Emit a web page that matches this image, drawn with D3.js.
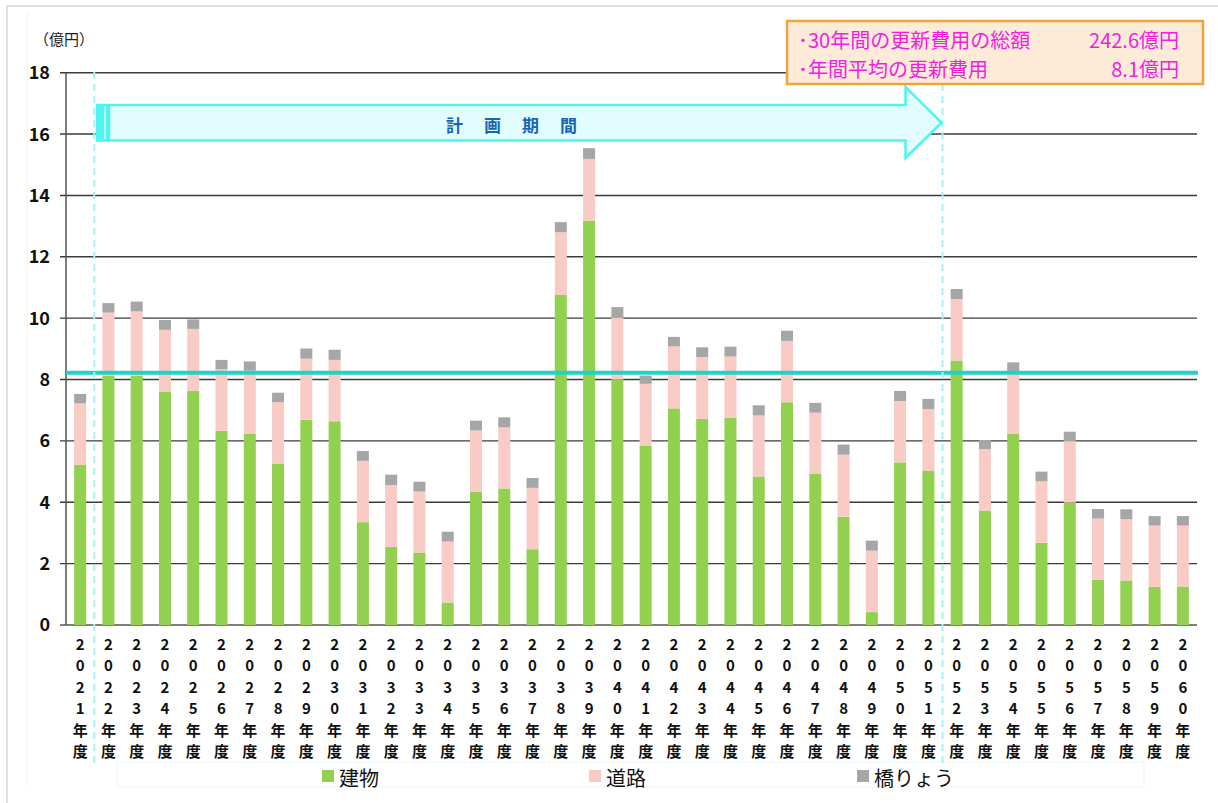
<!DOCTYPE html>
<html><head><meta charset="utf-8">
<script src="https://cdn.jsdelivr.net/npm/d3@7"></script>
<style>
html,body{margin:0;padding:0;background:#fff;}
svg{display:block;font-family:"Noto Sans CJK JP","Noto Sans",sans-serif;}
</style></head>
<body>
<svg id="chart" width="1218" height="803"></svg>
<script>
const years = ["2021","2022","2023","2024","2025","2026","2027","2028","2029","2030",
  "2031","2032","2033","2034","2035","2036","2037","2038","2039","2040",
  "2041","2042","2043","2044","2045","2046","2047","2048","2049","2050",
  "2051","2052","2053","2054","2055","2056","2057","2058","2059","2060"];
const building = [5.22,8.12,8.12,7.61,7.63,6.33,6.24,5.26,6.69,6.64,
  3.35,2.55,2.36,0.72,4.34,4.45,2.47,10.76,13.18,8.01,
  5.85,7.06,6.72,6.75,4.84,7.26,4.92,3.53,0.42,5.30,
  5.02,8.62,3.73,6.24,2.68,3.99,1.47,1.45,1.24,1.24];
const road = [2.00,2.06,2.10,2.01,2.02,2.01,2.05,2.00,1.99,2.00,
  2.00,2.01,1.99,2.00,2.00,1.99,2.00,2.04,2.01,2.01,
  2.01,2.02,2.01,2.00,1.99,2.00,2.00,2.02,2.00,2.00,
  2.02,2.00,2.00,2.00,2.00,2.00,2.00,2.00,2.00,2.00];
const bridge = [0.31,0.31,0.32,0.32,0.31,0.30,0.30,0.31,0.33,0.33,
  0.32,0.34,0.32,0.32,0.32,0.33,0.32,0.33,0.35,0.34,
  0.27,0.31,0.32,0.32,0.33,0.33,0.32,0.33,0.33,0.33,
  0.33,0.33,0.30,0.32,0.32,0.31,0.31,0.32,0.31,0.31];
const seriesNames = ["建物","道路","橋りょう"];
const seriesColors = ["#92d050","#f8cbc4","#a6a6a6"];
const yTicks = [0,2,4,6,8,10,12,14,16,18];
const avgLineValue = 8.22;
const unitLabel = "（億円）";
const planLabel = "計画期間";
const planStart = "2022", planEnd = "2051";
const noteLines = [["･30年間の更新費用の総額","242.6億円"],["･年間平均の更新費用","8.1億円"]];

(function(){
const svg = d3.select("#chart");
const pL = 66, pR = 1197, pT = 72.7, pB = 625;

// frames
svg.append("rect").attr("x",7).attr("y",6).attr("width",1300).attr("height",1000)
  .attr("fill","none").attr("stroke","#d6d6d6").attr("stroke-width",1.5);
svg.append("line").attr("x1",27).attr("x2",27).attr("y1",13).attr("y2",786)
  .attr("stroke","#f2f2f2").attr("stroke-width",1);

const x = d3.scaleBand().domain(years).range([pL,pR]).paddingInner(0.575).paddingOuter(0.2875);
const y = d3.scaleLinear().domain([0,18]).range([pB,pT]);

// legend faint box
svg.append("rect").attr("x",117).attr("y",762).attr("width",1027).attr("height",25)
  .attr("fill","none").attr("stroke","#e6f6f8").attr("stroke-width",1);

// gridlines
svg.append("g").selectAll("line").data(yTicks).join("line")
  .attr("x1",pL-6).attr("x2",pR).attr("y1",d=>y(d)).attr("y2",d=>y(d))
  .attr("stroke",d=>d===0?"#555":"#3a3a3a").attr("stroke-width",1.4);
// y axis
svg.append("line").attr("x1",pL).attr("x2",pL).attr("y1",pT).attr("y2",pB)
  .attr("stroke","#555").attr("stroke-width",1.5);
svg.append("g").selectAll("text").data(yTicks).join("text")
  .attr("x",50).attr("y",d=>y(d)).attr("dy","0.36em").attr("text-anchor","end")
  .attr("font-size",18).attr("font-weight","bold").attr("fill","#111").text(d=>d);
svg.append("text").attr("x",34).attr("y",40).attr("dy","0.35em").attr("font-size",15)
  .attr("fill","#222").text(unitLabel);

// stacked bars
const rows = years.map((yr,i)=>({year:yr,"建物":building[i],"道路":road[i],"橋りょう":bridge[i]}));
const stack = d3.stack().keys(seriesNames)(rows);
svg.append("g").selectAll("g").data(stack).join("g")
  .attr("fill",(d,i)=>seriesColors[i])
  .selectAll("rect").data(d=>d).join("rect")
  .attr("x",d=>x(d.data.year)).attr("width",x.bandwidth())
  .attr("y",d=>y(d[1])).attr("height",d=>y(d[0])-y(d[1]));

// average line
svg.append("line").attr("x1",pL).attr("x2",pR+1).attr("y1",y(avgLineValue)).attr("y2",y(avgLineValue))
  .attr("stroke","#1fd3c8").attr("stroke-width",4);

// x labels (vertical stacked)
const lblG = svg.append("g");
years.forEach(yr=>{
  const chars = (yr+"年度").split("");
  const cx = x(yr)+x.bandwidth()/2;
  chars.forEach((c,j)=>{
    lblG.append("text").attr("x",cx).attr("y",644.5+j*21.5).attr("dy","0.36em")
      .attr("text-anchor","middle").attr("font-size",15).attr("font-weight","bold")
      .attr("fill","#111").text(c);
  });
});

// dashed plan boundaries
const step = x.step();
const bStart = x(planStart) - step*x.paddingInner()/2;
const bEnd = x(planEnd) + x.bandwidth() + step*x.paddingInner()/2;
[bStart,bEnd].forEach(bx=>{
  svg.append("line").attr("x1",bx).attr("x2",bx).attr("y1",72).attr("y2",765)
    .attr("stroke","#a8f2f4").attr("stroke-width",2).attr("stroke-dasharray","7,5");
});

// plan arrow
const ax0 = bStart+3, ax1 = bEnd-1, headX = bEnd-37;
const by0 = 105, by1 = 140.5, hy0 = 87, hy1 = 158, tipY = 122.7;
svg.append("path")
  .attr("d",`M${ax0},${by0}L${headX},${by0}L${headX},${hy0}L${ax1},${tipY}L${headX},${hy1}L${headX},${by1}L${ax0},${by1}Z`)
  .attr("fill","#e2fdfd").attr("stroke","#4ff3f0").attr("stroke-width",2.5).attr("stroke-linejoin","miter");
svg.append("rect").attr("x",ax0).attr("y",by0).attr("width",7).attr("height",by1-by0).attr("fill","#4ff3f0");
svg.append("rect").attr("x",ax0+8.5).attr("y",by0).attr("width",4.5).attr("height",by1-by0).attr("fill","#4ff3f0");
svg.append("text").attr("x",446).attr("y",tipY+3).attr("dy","0.35em")
  .attr("font-size",17).attr("font-weight","bold").attr("fill","#1565b8")
  .attr("letter-spacing","21px").text(planLabel);

// note box
svg.append("rect").attr("x",787).attr("y",21).attr("width",416).attr("height",63)
  .attr("fill","#fdebd8").attr("stroke","#f0a53a").attr("stroke-width",2.5);
noteLines.forEach((ln,i)=>{
  const ty = 41+i*28.5;
  svg.append("text").attr("x",798).attr("y",ty).attr("dy","0.36em").attr("font-size",20)
    .attr("fill","#f01ee0").text(ln[0]);
  svg.append("text").attr("x",1179).attr("y",ty).attr("dy","0.36em").attr("font-size",20)
    .attr("text-anchor","end").attr("fill","#f01ee0").text(ln[1]);
});

// legend
const legendX = [322,589,857];
seriesNames.forEach((n,i)=>{
  svg.append("rect").attr("x",legendX[i]).attr("y",770).attr("width",12).attr("height",12)
    .attr("fill",seriesColors[i]);
  svg.append("text").attr("x",legendX[i]+17).attr("y",778.5).attr("dy","0.36em")
    .attr("font-size",20).attr("fill","#111").text(n);
});
})();
</script>
</body></html>
